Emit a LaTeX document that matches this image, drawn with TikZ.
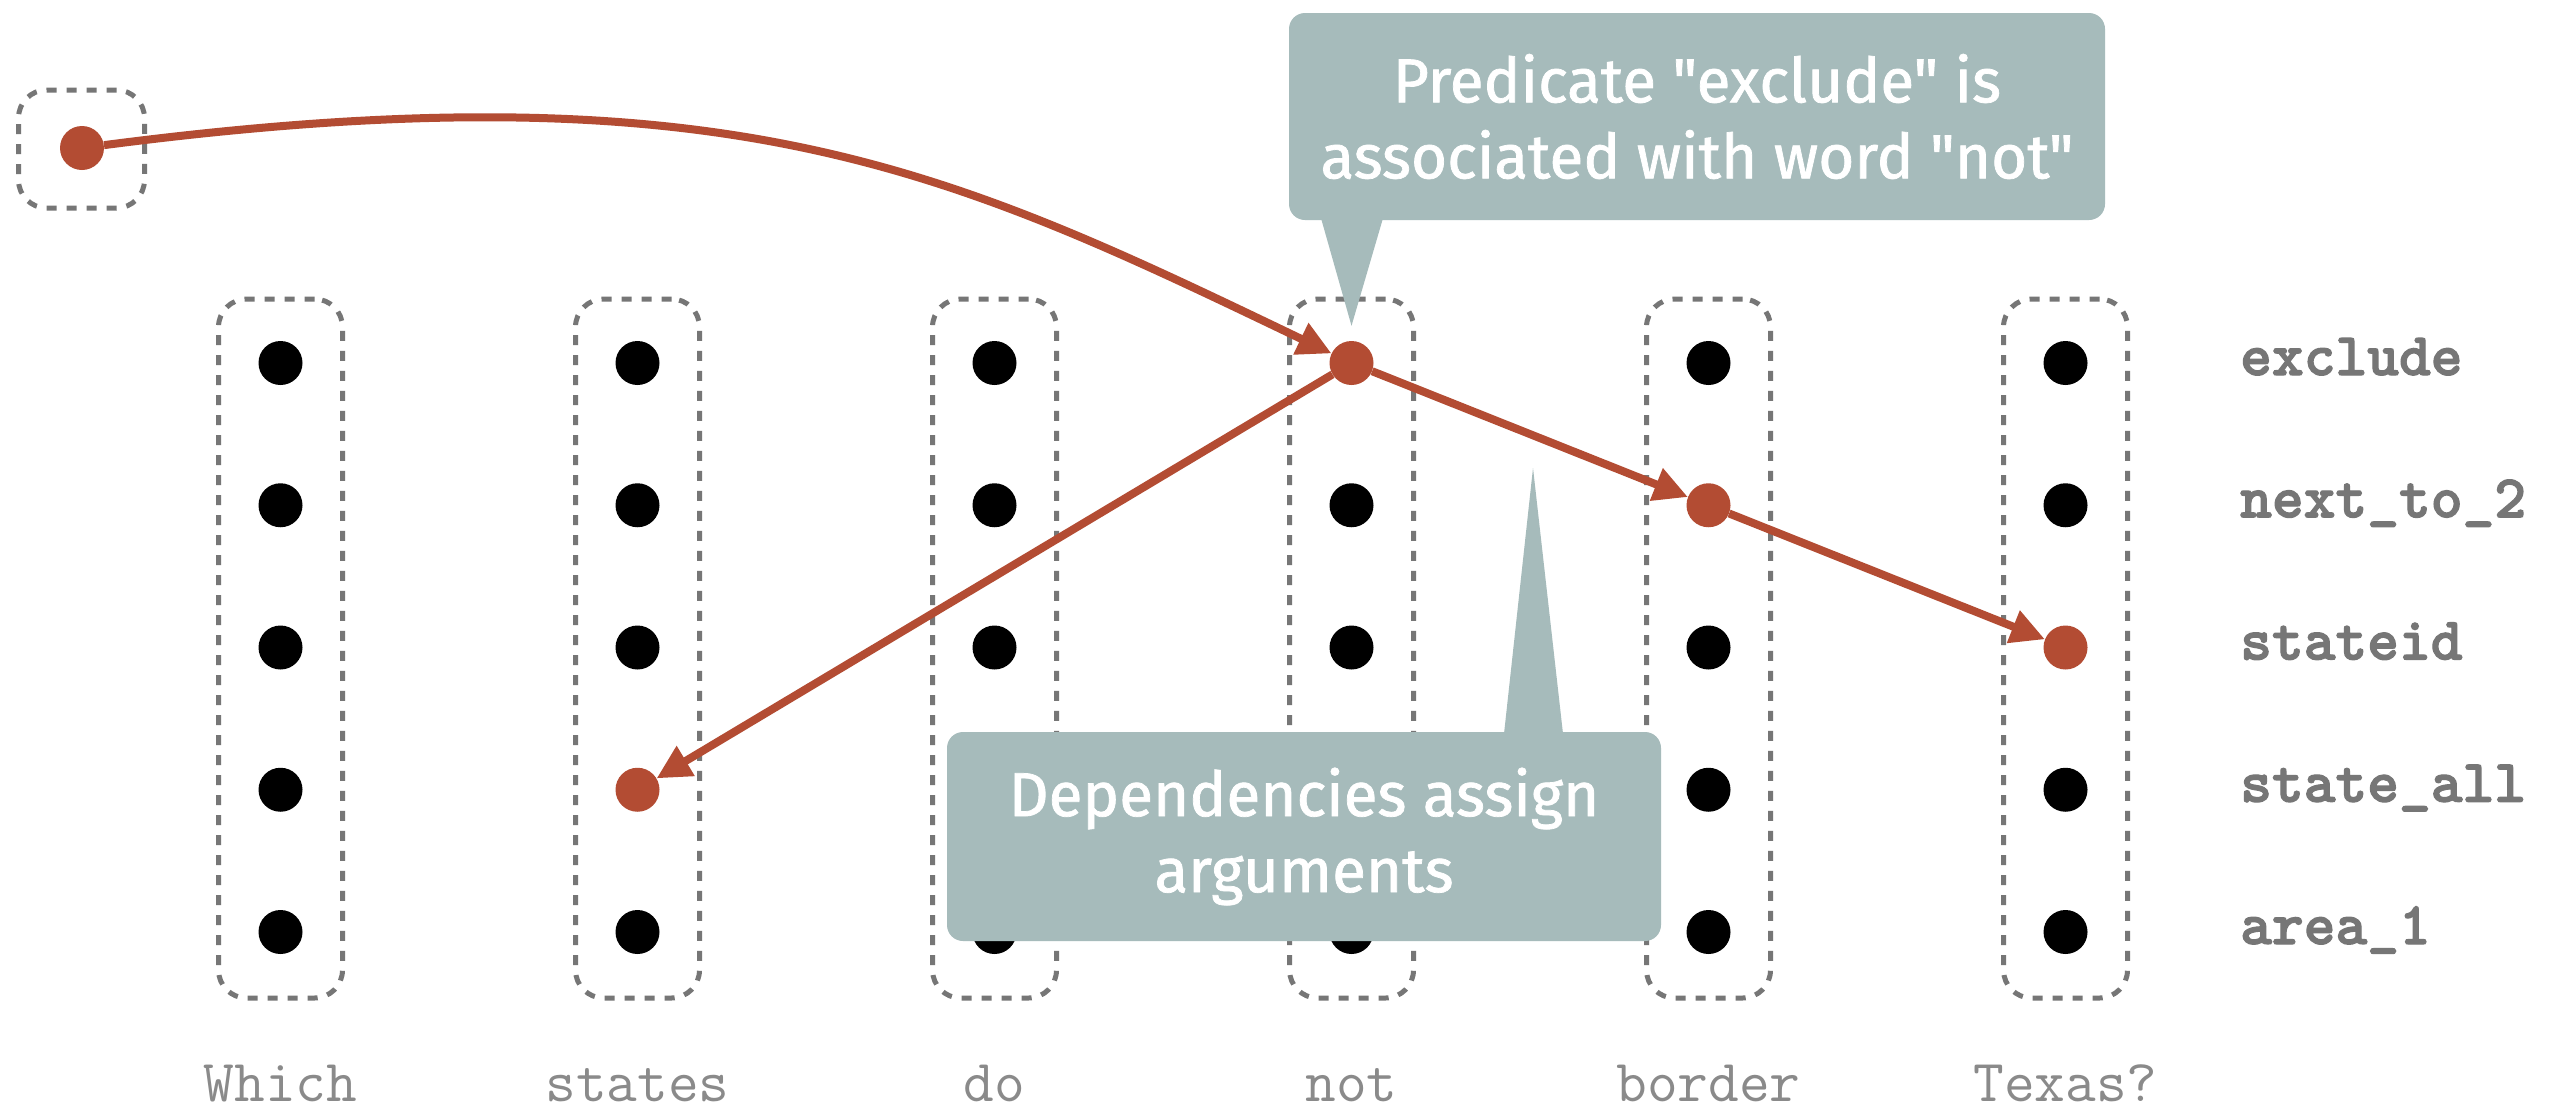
\documentclass[tikz,border=0pt]{standalone}
\usepackage{fontspec}
\newfontfamily\notefont{Fira Sans}[FakeBold=1.2]
\newfontfamily\symfont{lmmonolt10-bold.otf}[FakeBold=2]
\usetikzlibrary{arrows.meta,calc}
\definecolor{argred}{RGB}{179,76,51}
\definecolor{notegray}{RGB}{166,187,187}
\definecolor{linegray}{RGB}{118,118,118}
\begin{document}
\begin{tikzpicture}[x=1pt,y=-1pt,
  tokenbox/.style={draw=linegray, line width=5pt, dash pattern=on 10pt off 10pt,
    rounded corners=28pt, minimum width=124pt, minimum height=699pt, inner sep=0pt},
  dot/.style={circle, fill=black, minimum size=44pt, inner sep=0pt},
  argdot/.style={dot, fill=argred},
  link/.style={draw=argred, line width=8pt, -{Triangle[length=34pt,width=33pt]}},
  note/.style={fill=notegray, rounded corners=16pt, text=white, align=center,
    font=\notefont\fontsize{62}{76}\selectfont, inner sep=0pt},
  word/.style={text=linegray!85, font=\ttfamily\fontsize{59.6}{60}\selectfont,
    anchor=base, inner sep=0pt},
  symbol/.style={text=linegray, font=\symfont\fontsize{60.5}{61}\selectfont,
    anchor=base west, inner sep=0pt},
]
\useasboundingbox[fill=white] (0,0) rectangle (2558,1111);

% query token slot
\node[tokenbox, minimum width=126pt, minimum height=118pt] (q) at (81.5,149) {};

% one column of candidate symbols per question word
\foreach \w [count=\i] in {Which,states,do,not,border,Texas?} {
  \pgfmathsetmacro\cx{280.5+357*(\i-1)}
  \node[tokenbox] (col\i) at (\cx,648.5) {};
  \node[word] (w\i) at (\cx,1101) {\w};
}

% candidate symbols; the chosen ones are red
\foreach \i in {1,...,6} {
  \foreach \j in {1,...,5} {
    \pgfmathtruncatemacro\isarg{(\i==4&&\j==1)||(\i==5&&\j==2)||(\i==6&&\j==3)||(\i==2&&\j==4)}
    \ifnum\isarg=1 \def\dotstyle{argdot}\else\def\dotstyle{dot}\fi
    \node[\dotstyle] (d\i\j) at ({280.5+357*(\i-1)},{363+142.25*(\j-1)}) {};
  }
}
\node[argdot] (root) at (82,148) {};

% symbol names
\foreach \s [count=\j] in {exclude,next\_to\_2,stateid,state\_all,area\_1}
  \node[symbol] (s\j) at (2240,{363+142.25*(\j-1)+12}) {\s};

% dependencies
\draw[link] (root) .. controls (732,63.5) and (951,171) .. (d41);
\draw[link] (d41) -- (d24);
\draw[link] (d41) -- (d52);
\draw[link] (d52) -- (d63);

% notes
\node[note, minimum width=816pt, minimum height=207pt] (n1) at (1697,116.5)
  {Predicate "exclude" is\\associated with word "not"};
\coordinate (t1) at ($(d41.north)+(0,-15)$);
\fill[notegray] ($(n1.south)+(-376,-2)$) -- (t1) -- ($(n1.south)+(-314,-2)$) -- cycle;

\node[note, minimum width=714pt, minimum height=209pt] (n2) at (1304,836.5)
  {\raisebox{-6pt}{Dependencies assign}\\\raisebox{-6pt}{arguments}};
\coordinate (t2) at (1533,468);
\fill[notegray] ($(n2.north)+(200,2)$) -- (t2) -- ($(n2.north)+(259,2)$) -- cycle;
\end{tikzpicture}
\end{document}
